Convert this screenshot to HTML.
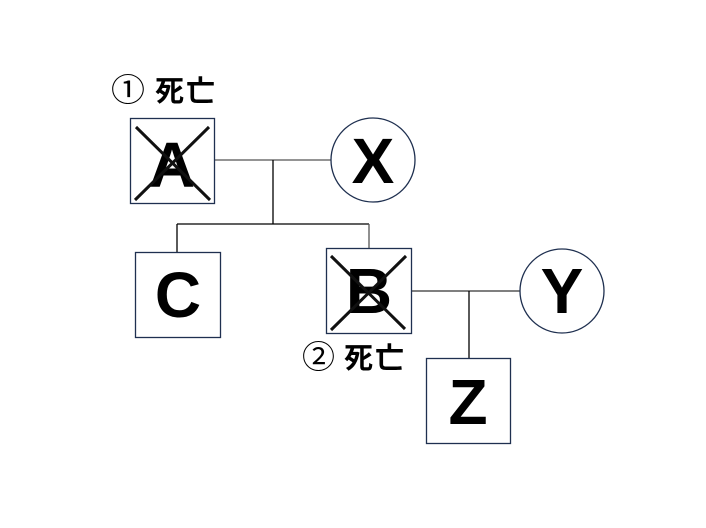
<!DOCTYPE html>
<html><head><meta charset="utf-8"><style>
html,body{margin:0;padding:0;background:#fff;}
svg{display:block;}
</style></head><body>
<svg width="706" height="528" viewBox="0 0 706 528" xmlns="http://www.w3.org/2000/svg">
<rect width="706" height="528" fill="#fff"/>
<g stroke="#000" stroke-width="1.3" fill="none">
<line x1="214" y1="160" x2="331" y2="160" stroke="#555"/>
<line x1="273" y1="160" x2="273" y2="224"/>
<line x1="177" y1="224" x2="369" y2="224"/>
<line x1="177" y1="224" x2="177" y2="252"/>
<line x1="369" y1="224" x2="369" y2="248" stroke="#555"/>
<line x1="411" y1="291" x2="520" y2="291" stroke="#333"/>
<line x1="469" y1="291" x2="469" y2="358"/>
</g>
<g stroke="#1f3050" stroke-width="1.3" fill="#fff">
<rect x="130.5" y="118.5" width="84" height="85"/>
<rect x="135.5" y="252.5" width="85" height="85"/>
<rect x="326.5" y="248.5" width="85" height="85"/>
<rect x="426.5" y="358.5" width="84" height="85"/>
<circle cx="373" cy="160" r="42"/>
<circle cx="562" cy="291" r="42"/>
</g>
<g font-family="Liberation Sans, sans-serif" font-weight="bold" font-size="64" text-anchor="middle" fill="#000">
<text x="172" y="187">A</text>
<text x="373" y="183">X</text>
<text x="178" y="317">C</text>
<text x="369" y="313">B</text>
<text x="562" y="313">Y</text>
<text x="468" y="424">Z</text>
</g>
<g stroke="#111" stroke-width="3">
<line x1="136" y1="127" x2="210" y2="200"/>
<line x1="209" y1="127" x2="135" y2="200"/>
<line x1="331" y1="256" x2="405" y2="329"/>
<line x1="406" y1="256" x2="331" y2="330"/>
</g>
<g font-family="'Noto Sans CJK JP', sans-serif" fill="#000">
<text x="111" y="101" font-size="32" textLength="34" lengthAdjust="spacingAndGlyphs">①</text>
<text x="155" y="101" font-size="29" font-weight="bold" textLength="60" lengthAdjust="spacing">死亡</text>
<text x="302" y="368" font-size="32" textLength="33" lengthAdjust="spacingAndGlyphs">②</text>
<text x="344" y="368" font-size="29" font-weight="bold" textLength="60" lengthAdjust="spacing">死亡</text>
</g>
</svg>
</body></html>
